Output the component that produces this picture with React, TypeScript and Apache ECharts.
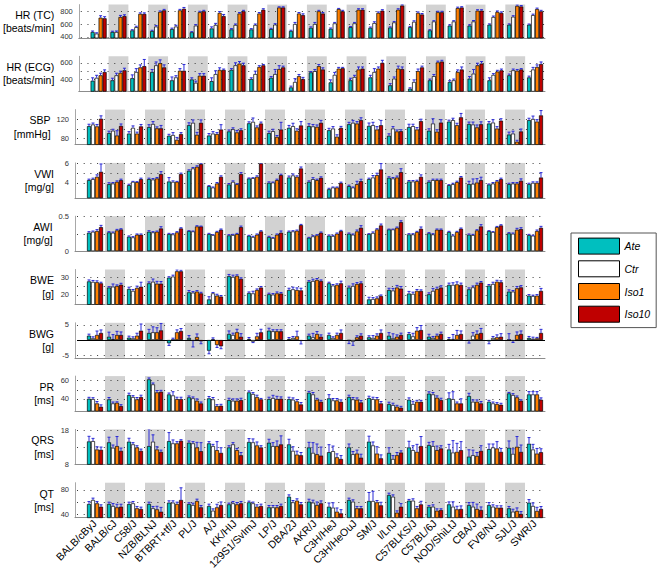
import { useEffect, useRef } from 'react';
import * as echarts from 'echarts';

const STRAINS = ['BALB/cByJ', 'BALB/cJ', 'C58/J', 'NZB/BLNJ', 'BTBRT+tf/J', 'PL/J', 'A/J', 'KK/HIJ', '129S1/SvImJ', 'LP/J', 'DBA/2J', 'AKR/J', 'C3H/HeJ', 'C3H/HeOuJ', 'SM/J', 'I/LnJ', 'C57BLKS/J', 'C57BL/6J', 'NOD/ShiLtJ', 'CBA/J', 'FVB/NJ', 'SJL/J', 'SWR/J'];
const GROUPS = ['Ate', 'Ctr', 'Iso1', 'Iso10'];
const COLORS = ['#00bfbf', '#ffffff', '#ff8000', '#bf0000'];

// order of rows in each table: Ate, Ctr, Iso1, Iso10
const HR_TC = [
  [475, 475, 500, 490, 520, 470, 530, 515, 515, 520, 490, 540, 525, 550, 540, 545, 550, 500, 575, 575, 590, 590, 590],
  [450, 475, 550, 560, 560, 575, 585, 585, 585, 590, 600, 600, 610, 610, 615, 625, 635, 640, 640, 640, 710, 715, 740],
  [700, 710, 760, 790, 815, 785, 775, 765, 765, 860, 765, 800, 835, 825, 775, 825, 775, 785, 850, 810, 790, 885, 835],
  [690, 725, 760, 815, 840, 800, 725, 800, 825, 860, 740, 765, 800, 825, 810, 890, 750, 785, 860, 810, 775, 875, 800],
];
const HR_TC_SEM = [
  [15, 12, 10, 12, 15, 10, 25, 12, 12, 12, 12, 15, 12, 10, 12, 10, 12, 10, 12, 12, 12, 12, 10],
  [12, 15, 15, 15, 20, 15, 25, 15, 15, 15, 25, 25, 15, 15, 20, 15, 15, 12, 12, 15, 15, 15, 15],
  [30, 25, 15, 15, 15, 15, 20, 15, 15, 10, 15, 15, 10, 15, 15, 15, 15, 15, 15, 15, 15, 15, 15],
  [25, 20, 15, 15, 20, 15, 25, 15, 15, 10, 20, 15, 15, 15, 15, 15, 15, 15, 12, 15, 15, 15, 15],
];
const HR_ECG = [
  [385, 390, 415, 490, 390, 400, 380, 515, 405, 420, 305, 485, 365, 390, 425, 330, 290, 390, 370, 410, 390, 450, 425],
  [420, 450, 490, 570, 425, 360, 465, 570, 465, 465, 370, 500, 455, 430, 490, 410, 370, 440, 390, 470, 455, 510, 520],
  [450, 480, 545, 595, 505, 445, 515, 590, 550, 525, 440, 560, 530, 520, 530, 530, 500, 605, 490, 570, 495, 505, 550],
  [490, 510, 560, 545, 505, 445, 515, 570, 570, 545, 405, 520, 535, 530, 600, 525, 545, 615, 520, 590, 510, 520, 585],
];
const HR_ECG_SEM = [
  [35, 25, 40, 30, 40, 20, 40, 15, 15, 15, 15, 10, 30, 25, 25, 20, 10, 15, 15, 25, 30, 15, 15],
  [30, 25, 40, 40, 20, 20, 40, 30, 35, 55, 40, 20, 30, 20, 40, 20, 25, 20, 15, 50, 15, 15, 25],
  [25, 20, 30, 40, 25, 25, 25, 25, 15, 40, 20, 20, 15, 30, 20, 30, 25, 15, 25, 25, 15, 15, 25],
  [25, 25, 80, 30, 75, 25, 10, 25, 10, 15, 20, 20, 10, 20, 30, 25, 15, 15, 30, 25, 15, 10, 25],
];
const SBP = [
  [105.5, 91, 90, 103.5, 85.5, 107.5, 86, 94.5, 111.5, 91, 102, 105.5, 97, 109.5, 106, 85.5, 103.5, 96, 115, 110, 111, 88, 118],
  [109, 96, 102, 110, 87, 112.5, 90, 99, 114.5, 95, 105.5, 105, 100.5, 112.5, 107.5, 100.5, 105.5, 111, 118, 109, 113, 90, 120.5],
  [105, 86, 90, 101, 77, 87.5, 89, 92.5, 103, 83, 96, 104, 83.5, 111, 98.5, 94.5, 98.5, 94, 107.5, 103, 100.5, 73, 115],
  [121, 106, 105, 101, 89, 112.5, 98.5, 97, 111, 98.5, 107, 112.5, 102, 118, 107.5, 95, 116, 113, 124, 109.5, 117, 94.5, 128],
];
const SBP_SEM = [
  [4, 4, 4, 5, 3, 5, 4, 3, 3, 4, 5, 5, 4, 4, 6, 4, 6, 4, 3, 4, 4, 5, 4],
  [3, 3, 4, 5, 5, 6, 4, 3, 8, 4, 6, 4, 4, 5, 6, 4, 4, 10, 4, 5, 6, 5, 6],
  [4, 10, 3, 3, 5, 5, 3, 4, 3, 3, 4, 4, 4, 4, 6, 3, 4, 4, 4, 5, 4, 3, 4],
  [6, 4, 4, 6, 3, 6, 10, 3, 3, 15, 8, 5, 3, 5, 10, 3, 4, 6, 8, 5, 4, 5, 10],
];
const VWI = [
  [4.28, 3.86, 3.76, 4.38, 4.14, 5.24, 3.66, 3.83, 4.45, 4.0, 4.55, 4.1, 3.34, 3.66, 4.38, 4.52, 4.14, 4.1, 3.76, 3.86, 3.83, 3.86, 3.86],
  [4.38, 3.93, 4.1, 4.34, 4.1, 5.48, 3.52, 4.1, 4.48, 4.03, 4.76, 4.38, 3.52, 3.52, 4.55, 4.45, 4.14, 4.28, 3.86, 3.9, 3.93, 3.93, 4.0],
  [4.62, 4.1, 4.07, 4.45, 4.1, 5.65, 3.93, 3.86, 4.62, 4.28, 4.62, 4.28, 3.52, 3.86, 4.79, 4.55, 4.17, 4.28, 4.07, 4.03, 4.14, 3.93, 4.0],
  [5.14, 4.28, 4.38, 4.9, 4.9, 5.93, 4.62, 4.9, 6.0, 4.79, 5.48, 4.52, 3.97, 4.17, 5.38, 5.1, 4.62, 4.28, 4.55, 4.28, 4.38, 4.21, 4.55],
];
const VWI_SEM = [
  [0.1, 0.15, 0.1, 0.1, 0.4, 0.1, 0.05, 0.1, 0.05, 0.1, 0.15, 0.1, 0.1, 0.1, 0.1, 0.1, 0.1, 0.1, 0.05, 0.3, 0.05, 0.1, 0.1],
  [0.1, 0.1, 0.05, 0.1, 0.1, 0.1, 0.05, 0.1, 0.05, 0.05, 0.15, 0.15, 0.05, 0.05, 0.2, 0.1, 0.1, 0.1, 0.1, 0.5, 0.1, 0.1, 0.1],
  [0.2, 0.1, 0.05, 0.1, 0.05, 0.1, 0.1, 0.05, 0.1, 0.1, 0.1, 0.1, 0.05, 0.3, 0.2, 0.15, 0.1, 0.1, 0.1, 0.4, 0.1, 0.1, 0.1],
  [0.8, 0.1, 0.1, 0.25, 0.1, 0.1, 0.1, 0.15, 0.05, 0.1, 0.15, 0.1, 0.1, 0.2, 0.6, 0.35, 0.2, 0.1, 0.1, 0.3, 0.1, 0.2, 0.5],
];
const AWI = [
  [0.264, 0.269, 0.208, 0.278, 0.245, 0.288, 0.245, 0.226, 0.222, 0.203, 0.278, 0.193, 0.222, 0.25, 0.245, 0.311, 0.24, 0.255, 0.274, 0.236, 0.288, 0.255, 0.231],
  [0.278, 0.264, 0.198, 0.269, 0.24, 0.283, 0.231, 0.231, 0.203, 0.189, 0.283, 0.212, 0.217, 0.236, 0.26, 0.311, 0.24, 0.24, 0.222, 0.231, 0.274, 0.25, 0.222],
  [0.288, 0.297, 0.236, 0.278, 0.269, 0.354, 0.274, 0.245, 0.236, 0.236, 0.292, 0.226, 0.25, 0.283, 0.311, 0.335, 0.274, 0.307, 0.274, 0.297, 0.344, 0.307, 0.288],
  [0.344, 0.311, 0.236, 0.325, 0.325, 0.354, 0.307, 0.344, 0.283, 0.264, 0.373, 0.264, 0.288, 0.335, 0.368, 0.415, 0.321, 0.307, 0.321, 0.354, 0.368, 0.316, 0.335],
];
const AWI_SEM = [
  [0.015, 0.01, 0.01, 0.015, 0.01, 0.005, 0.01, 0.01, 0.005, 0.01, 0.01, 0.005, 0.01, 0.01, 0.005, 0.005, 0.01, 0.01, 0.01, 0.01, 0.005, 0.01, 0.01],
  [0.01, 0.01, 0.01, 0.01, 0.01, 0.005, 0.005, 0.01, 0.01, 0.005, 0.01, 0.01, 0.01, 0.01, 0.015, 0.005, 0.01, 0.01, 0.01, 0.01, 0.005, 0.01, 0.005],
  [0.02, 0.015, 0.01, 0.01, 0.01, 0.01, 0.01, 0.01, 0.01, 0.01, 0.01, 0.01, 0.01, 0.02, 0.01, 0.01, 0.01, 0.01, 0.01, 0.01, 0.01, 0.02, 0.015],
  [0.025, 0.01, 0.01, 0.025, 0.01, 0.005, 0.01, 0.015, 0.01, 0.025, 0.01, 0.01, 0.01, 0.03, 0.02, 0.02, 0.025, 0.01, 0.01, 0.025, 0.01, 0.02, 0.02],
];
const BWE = [
  [27.7, 24.2, 23.4, 26.6, 29.8, 21.5, 17.5, 30.6, 21.1, 20.4, 22.8, 27.5, 26.6, 24.2, 17.5, 22.8, 20.8, 20.4, 25.7, 23.2, 25.3, 21.9, 19.6],
  [27.4, 24.7, 22.3, 27.5, 30.4, 21.3, 20.9, 30.2, 20.9, 20.2, 23.2, 27.9, 25.3, 25.1, 17.7, 22.5, 20.6, 22.3, 25.7, 24.3, 26.2, 21.9, 19.4],
  [27.2, 25.1, 24.0, 26.4, 33.4, 21.9, 19.6, 30.8, 22.8, 20.9, 22.8, 28.5, 25.7, 26.2, 18.1, 24.2, 22.3, 23.4, 26.0, 25.7, 27.5, 23.8, 19.6],
  [26.6, 25.8, 24.7, 26.4, 33.4, 20.9, 19.1, 29.1, 24.2, 20.8, 22.6, 27.9, 26.6, 26.6, 19.4, 23.6, 22.3, 24.2, 25.7, 27.0, 27.2, 24.3, 22.3],
];
const BWE_SEM = [
  [0.8, 0.5, 1, 0.8, 0.5, 1, 1.5, 1, 0.6, 0.6, 1, 0.6, 0.6, 0.8, 1.2, 1, 1.2, 0.8, 1, 0.8, 0.6, 1, 0.6],
  [0.8, 1.5, 0.8, 1.5, 0.8, 0.6, 0.5, 1, 1.2, 0.6, 1.2, 1, 0.6, 1.2, 0.8, 1.2, 1, 1.4, 1.2, 0.8, 1, 0.6, 0.5],
  [0.8, 0.6, 1, 1.3, 0.8, 0.6, 0.8, 0.6, 0.6, 0.8, 1.2, 0.8, 0.6, 0.8, 0.8, 1.2, 0.8, 1, 1.4, 1, 0.8, 1, 0.6],
  [0.6, 0.8, 2.5, 1.2, 0.6, 0.6, 0.6, 0.6, 0.6, 0.6, 1.2, 0.6, 1.2, 0.8, 0.6, 1.2, 0.6, 1, 1, 0.6, 0.8, 1, 1.4],
];
const BWG = [
  [1.44, 1.1, 0.78, 2.33, -1.1, 0.67, -3.56, 2.0, 0.33, 3.1, 0.33, 1.44, 1.67, -0.2, 0.9, 1.44, 2.0, 1.1, 0.33, -0.22, -0.44, 0.1, 0.67],
  [0.56, 0.3, 0.56, 2.56, 0.1, -0.3, 0.2, 1.67, -0.56, 2.9, 0.67, 0.9, 0.67, -0.56, 0.67, 0.56, 1.22, 0.67, 0.33, 1.44, 0.67, -0.33, 0.44],
  [1.67, 1.67, 1.44, 2.56, 2.56, 1.0, -1.67, 2.56, 1.22, 2.9, 1.22, 2.0, 1.67, 0.9, 1.44, 1.1, 3.1, 1.44, 1.67, 2.0, 0.9, 1.67, 0.56],
  [2.33, 1.67, 3.1, 3.2, 3.0, -0.44, -2.1, 1.1, 2.56, 2.9, -0.3, 1.1, 2.33, 1.44, 2.33, 1.67, 3.3, 2.0, 2.0, 2.33, 1.1, 2.0, 2.33],
];
const BWG_SEM = [
  [0.5, 1.5, 0.5, 1.2, 0.7, 0.8, 1, 1, 0.5, 0.8, 0.5, 0.5, 0.6, 1, 0.5, 1, 0.5, 0.8, 0.5, 0.8, 0.8, 2, 0.5],
  [0.5, 1.5, 0.5, 1.8, 0.5, 2, 0.5, 0.6, 0.3, 0.5, 0.5, 1.3, 0.4, 1.2, 0.8, 1.5, 1, 0.5, 1.5, 1, 0.5, 0.5, 0.5],
  [1.3, 1.2, 0.8, 1.5, 0.8, 1, 0.8, 1, 1, 0.5, 1.7, 0.8, 0.6, 0.5, 0.6, 0.6, 1, 0.5, 1.5, 1, 0.8, 1, 0.3],
  [1, 1, 2.2, 2.3, 0.8, 0.8, 0.8, 1, 1, 0.5, 1, 0.6, 1, 0.6, 1, 0.6, 1.5, 0.6, 1, 1.5, 1, 1, 1.2],
];
const PR = [
  [40, 39.3, 44, 61.1, 44.7, 41.5, 40.4, 38.5, 46.9, 39.6, 39.6, 46.5, 40.4, 41.8, 40.7, 34.2, 38.9, 45.5, 40.4, 42.9, 36.7, 45.8, 44.7],
  [39.6, 34.9, 41.8, 55.6, 43.6, 40.4, 39.3, 37.8, 45.1, 40.7, 38.9, 44.7, 38.2, 39.3, 39.6, 33.1, 34.2, 44.7, 39.6, 36.7, 34.9, 44, 44.7],
  [34.9, 35.6, 39.3, 46.9, 39.6, 37.8, 32, 37.8, 41.8, 39.6, 37.1, 38.9, 38.2, 38.9, 39.3, 31.3, 36.7, 41.1, 34.9, 36.7, 34.2, 41.5, 44.7],
  [31.3, 32, 41.8, 47.6, 39.6, 34.9, 32.4, 38.5, 39.3, 40, 33.8, 36.7, 36.7, 36, 34.9, 30.2, 36.7, 38.5, 34.9, 34.9, 33.5, 37.8, 38.9],
];
const PR_SEM = [
  [1.5, 2, 2, 1.5, 1.5, 1.5, 2, 2, 1.5, 2, 2, 1.5, 4, 2, 2, 2, 2, 2, 6, 3, 1.5, 1, 3],
  [1.5, 1.5, 1.5, 1.5, 4, 1.5, 2, 2, 1.5, 3, 2, 2, 2, 2, 2, 2, 3, 2, 8, 2, 1.5, 1.5, 3],
  [2, 1, 2, 2, 2, 2, 1.5, 2, 2, 3, 2, 1.5, 2, 2, 2, 1.5, 1.5, 2, 1.5, 2, 1.5, 1.5, 3],
  [2, 1.5, 2, 1.5, 2, 1.5, 1.5, 2, 1, 2, 2, 1.5, 2, 2, 2, 1.5, 1.5, 2, 5, 2, 1.5, 1, 2],
];
const QRS = [
  [14.67, 14.4, 14.6, 13.3, 14.76, 14.3, 14.1, 12.9, 14.5, 14.3, 13.8, 12.9, 11.5, 12.9, 14.6, 11.3, 12.9, 13.6, 12.3, 10.2, 12.4, 12.8, 14.0],
  [14.76, 12.8, 13.8, 14.6, 14.1, 14.1, 13.3, 13.8, 14.4, 13.3, 11.9, 11.3, 11.8, 10.9, 13.5, 9.5, 12.1, 13.3, 11.4, 10.6, 12.9, 11.0, 12.3],
  [12.3, 13.3, 12.9, 12.3, 14.1, 12.9, 12.1, 12.1, 13.5, 13.3, 10.8, 10.9, 10.0, 11.1, 11.1, 10.6, 11.6, 12.1, 11.6, 10.4, 12.6, 13.1, 11.1],
  [12.2, 11.9, 11.9, 11.6, 14.86, 11.8, 11.3, 10.6, 12.9, 13.8, 10.6, 10.5, 9.5, 9.9, 9.7, 11.4, 13.3, 12.6, 12.1, 11.9, 11.6, 11.6, 11.5],
];
const QRS_SEM = [
  [1.5, 1.5, 1, 5, 2.5, 0.5, 0.5, 0.5, 1, 1, 1.5, 1.5, 2.2, 1, 1.6, 1.5, 1.8, 0.8, 1.5, 2, 1.5, 2, 1.8],
  [0.8, 0.8, 0.5, 2, 1, 0.5, 0.5, 0.5, 1, 1, 1.2, 3, 1.5, 0.8, 1, 1, 1.3, 1.3, 3.5, 1.5, 1, 1.5, 1.5],
  [0.8, 2.8, 0.5, 0.8, 0.5, 1.5, 2.5, 0.5, 1, 1.5, 1, 3, 1, 1, 2, 0.8, 2.2, 1.2, 2.5, 1, 2, 3, 1.5],
  [0.8, 0.8, 0.5, 0.5, 0.3, 2.5, 1.5, 0.8, 0.5, 2.5, 0.8, 2.5, 1, 1, 1, 0.5, 2.8, 0.8, 2.5, 1.5, 1, 2, 1],
];
const QT = [
  [57, 57, 57, 57, 59.2, 57, 53.7, 56.4, 59.7, 51.5, 69, 60.8, 52.6, 63.6, 61.9, 71.8, 62.5, 52.6, 56.4, 55.3, 55.3, 49.9, 59.2],
  [63.6, 53.7, 58.1, 49.9, 59.2, 55.3, 46, 58.1, 58.1, 51.5, 59.7, 59.2, 51, 60.8, 61.9, 69, 62.5, 52.6, 52.6, 52.6, 52.6, 44.4, 53.7],
  [58.1, 51.5, 49.9, 48.2, 57, 61.9, 51.5, 56.4, 52.6, 51.5, 62.5, 55.3, 44.4, 49.9, 59.7, 42.7, 49.9, 46, 48.2, 48.8, 51, 45.5, 45.5],
  [52.6, 52.6, 48.8, 44.4, 63.6, 51.5, 55.3, 58.1, 53.7, 53.7, 56.4, 58.1, 41.6, 49.9, 54.8, 52.6, 56.4, 47.1, 48.8, 47.1, 51, 40.5, 48.8],
];
const QT_SEM = [
  [4, 3, 3, 3, 3, 2, 3, 2, 2, 3, 3, 4, 6, 3, 14, 3, 2, 2, 4, 4, 4, 3, 5],
  [3, 4, 3, 3, 3, 3, 3, 3, 2, 3, 3, 4, 8, 3, 16, 3, 3, 3, 8, 7, 3, 4, 5],
  [3, 5, 3, 5, 3, 3, 5, 3, 3, 3, 3, 5, 6, 3, 3, 3, 3, 3, 5, 8, 3, 5, 6],
  [3, 4, 3, 7, 20, 3, 5, 3, 3, 3, 3, 4, 6, 3, 5, 5, 5, 2, 5, 5, 3, 4, 4],
];

const PANELS = [
  { name: 'HR (TC)\n[beats/min]', mean: HR_TC, sem: HR_TC_SEM, min: 380, max: 905, labels: [400, 600, 800], dots: [400, 600, 800], zero: false },
  { name: 'HR (ECG)\n[beats/min]', mean: HR_ECG, sem: HR_ECG_SEM, min: 258, max: 678, labels: [400, 600], dots: [400, 500, 600], zero: false },
  { name: 'SBP\n[mmHg]', mean: SBP, sem: SBP_SEM, min: 67, max: 140, labels: [80, 120], dots: [80, 100, 120], zero: false },
  { name: 'VWI\n[mg/g]', mean: VWI, sem: VWI_SEM, min: 2.45, max: 6.05, labels: [4, 6], dots: [4, 5, 6], zero: false },
  { name: 'AWI\n[mg/g]', mean: AWI, sem: AWI_SEM, min: 0, max: 0.5, labels: [0, 0.5], dots: [0.25, 0.5], zero: false },
  { name: 'BWE\n[g]', mean: BWE, sem: BWE_SEM, min: 14.6, max: 34.4, labels: [20, 30], dots: [20, 25, 30], zero: false },
  { name: 'BWG\n[g]', mean: BWG, sem: BWG_SEM, min: -5.9, max: 5.7, labels: [-5, 5], dots: [-5, 5], zero: true },
  { name: 'PR\n[ms]', mean: PR, sem: PR_SEM, min: 26.5, max: 64.6, labels: [40, 60], dots: [40, 50, 60], zero: false },
  { name: 'QRS\n[ms]', mean: QRS, sem: QRS_SEM, min: 7.9, max: 18.2, labels: [8, 18], dots: [13, 18], zero: false },
  { name: 'QT\n[ms]', mean: QT, sem: QT_SEM, min: 34.4, max: 92, labels: [40, 80], dots: [40, 60, 80], zero: false },
];

const FONT = '"Liberation Sans", Arial, Helvetica, sans-serif';
const BAR_W = 4;

export default function App() {
  const ref = useRef<HTMLDivElement>(null);

  useEffect(() => {
    if (!ref.current) return;
    const chart = echarts.init(ref.current, undefined, { renderer: 'svg' });

    const grids: any[] = [];
    const xAxes: any[] = [];
    const yAxes: any[] = [];
    const series: any[] = [];
    const shaded = STRAINS.map((_, i) => i + 1).filter((v) => v % 2 === 0);

    PANELS.forEach((p, pi) => {
      const last = pi === PANELS.length - 1;
      grids.push({ left: 75, right: 116, top: 3 + 53.3 * pi, height: 35 });
      xAxes.push({
        gridIndex: pi,
        type: 'value',
        min: 0,
        max: 23.5,
        interval: 1,
        axisLine: { show: true, onZero: false, lineStyle: { color: '#8c8c8c', width: 1 } },
        axisTick: { show: false },
        splitLine: { show: false },
        axisLabel: {
          show: last,
          rotate: 45,
          margin: 4,
          fontSize: 10.5,
          fontFamily: FONT,
          color: '#000',
          showMinLabel: false,
          showMaxLabel: false,
          formatter: (v: number) => (Number.isInteger(v) && v >= 1 && v <= STRAINS.length ? STRAINS[v - 1] : ''),
        },
      });
      yAxes.push({
        gridIndex: pi,
        type: 'value',
        min: p.min,
        max: p.max,
        axisLine: { show: true, lineStyle: { color: '#a8a8a8', width: 1 } },
        axisTick: { show: false },
        splitLine: { show: false },
        axisLabel: { customValues: p.labels, fontSize: 7.5, color: '#333', margin: 6, fontFamily: FONT },
        name: p.name,
        nameLocation: 'middle',
        nameRotate: 0,
        nameGap: 21,
        nameTextStyle: { align: 'right', verticalAlign: 'middle', fontSize: 10.5, lineHeight: 13.3, color: '#000', fontFamily: FONT },
      });

      // gray shading for alternate strains
      series.push({
        type: 'custom',
        xAxisIndex: pi,
        yAxisIndex: pi,
        z: 1,
        silent: true,
        data: shaded.map((v) => [v]),
        renderItem: (params: any, api: any) => {
          const x = api.value(0);
          const l = api.coord([x - 0.5, p.min])[0];
          const r = api.coord([x + 0.5, p.min])[0];
          const cs = params.coordSys;
          return { type: 'rect', shape: { x: l, y: cs.y, width: r - l, height: cs.height }, style: { fill: '#d2d2d2' } };
        },
      });
      // dotted grid lines (and solid zero line)
      const lines: number[][] = p.dots.map((v) => [v, 0]);
      if (p.zero) lines.push([0, 1]);
      series.push({
        type: 'custom',
        xAxisIndex: pi,
        yAxisIndex: pi,
        z: 2,
        silent: true,
        data: lines,
        renderItem: (params: any, api: any) => {
          const v = api.value(0);
          const solid = api.value(1) === 1;
          const cs = params.coordSys;
          const y = Math.round(api.coord([0, v])[1]) + 0.5;
          return {
            type: 'line',
            shape: { x1: cs.x + 2, y1: y, x2: cs.x + cs.width, y2: y },
            style: solid
              ? { stroke: '#000', lineWidth: 1 }
              : { stroke: '#3a3a3a', lineWidth: 1, lineDash: [1, 5.7] },
          };
        },
      });

      GROUPS.forEach((g, k) => {
        series.push({
          type: 'bar',
          name: g,
          xAxisIndex: pi,
          yAxisIndex: pi,
          z: 3,
          barWidth: BAR_W,
          barGap: '0%',
          silent: true,
          data: p.mean[k].map((v, i) => [i + 1, v]),
          itemStyle: { color: COLORS[k], borderColor: '#000', borderWidth: 0.7 },
        });
      });

      const errData: number[][] = [];
      GROUPS.forEach((_, k) => {
        p.mean[k].forEach((v, i) => errData.push([i + 1, v, p.sem[k][i], k]));
      });
      series.push({
        type: 'custom',
        xAxisIndex: pi,
        yAxisIndex: pi,
        z: 4,
        silent: true,
        clip: true,
        data: errData,
        renderItem: (params: any, api: any) => {
          const x = api.value(0);
          const m = api.value(1);
          const e = api.value(2);
          const k = api.value(3);
          const dir = m < 0 ? -1 : 1;
          const base = api.coord([x, m]);
          const tip = api.coord([x, m + dir * e]);
          const cx = base[0] + (k - 1.5) * BAR_W;
          const st = { stroke: '#2b2bd6', lineWidth: 1 };
          return {
            type: 'group',
            children: [
              { type: 'line', shape: { x1: cx, y1: base[1], x2: cx, y2: tip[1] }, style: st },
              { type: 'line', shape: { x1: cx - 1.5, y1: tip[1], x2: cx + 1.5, y2: tip[1] }, style: st },
            ],
          };
        },
      });
    });

    chart.setOption({
      animation: false,
      backgroundColor: '#ffffff',
      textStyle: { fontFamily: FONT },
      grid: grids,
      xAxis: xAxes,
      yAxis: yAxes,
      legend: {
        data: GROUPS,
        orient: 'vertical',
        left: 571,
        top: 233,
        icon: 'rect',
        itemWidth: 41,
        itemHeight: 16,
        itemGap: 5.7,
        padding: [4.6, 6, 4.9, 7],
        borderColor: '#555',
        borderWidth: 1,
        backgroundColor: '#fff',
        selectedMode: false,
        itemStyle: { borderColor: '#000', borderWidth: 1 },
        textStyle: { fontStyle: 'italic', fontSize: 10.5, color: '#000', fontFamily: FONT },
      },
      series,
    });

    return () => chart.dispose();
  }, []);

  return <div ref={ref} style={{ position: 'absolute', left: 0, top: 0, width: 661, height: 574 }} />;
}
